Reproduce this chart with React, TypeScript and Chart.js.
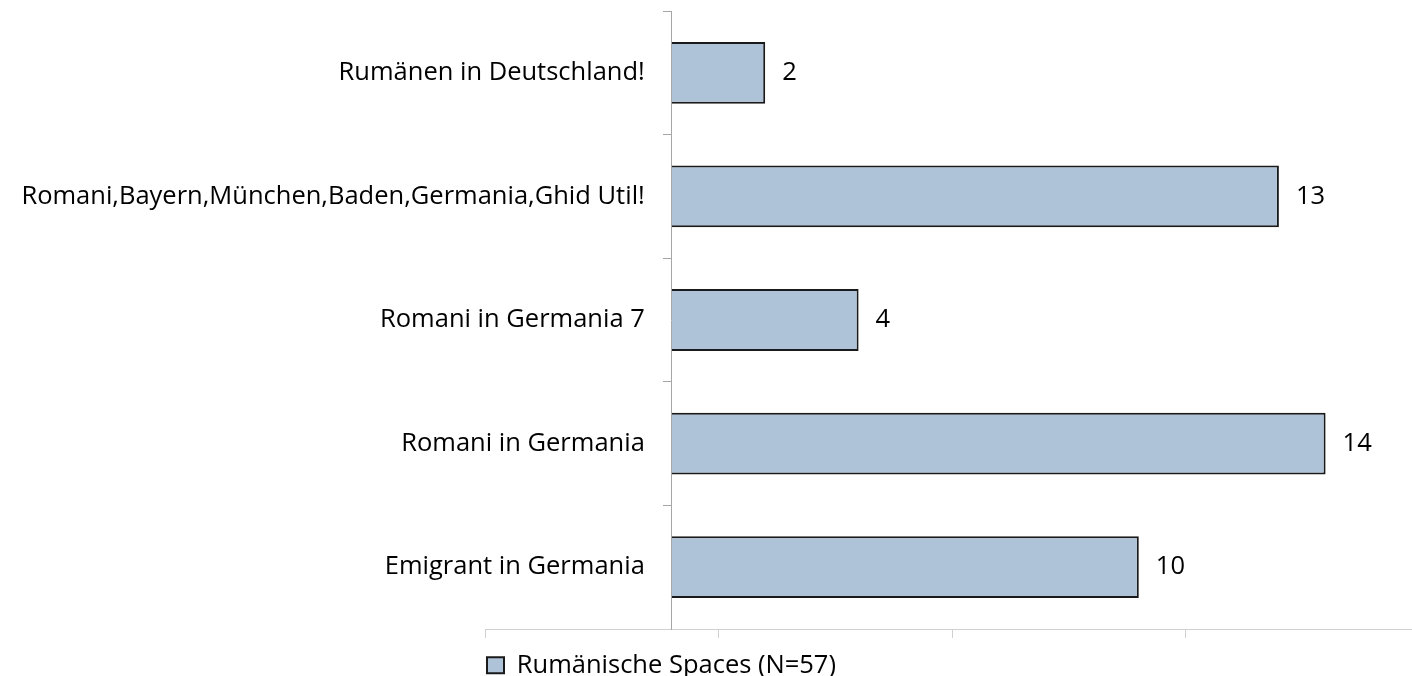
import React, { useEffect, useRef } from "react";
import { Chart, registerables } from "chart.js";

Chart.register(...registerables);

const categories: string[] = [
  "Rumänen in Deutschland!",
  "Romani,Bayern,München,Baden,Germania,Ghid Util!",
  "Romani in Germania 7",
  "Romani in Germania",
  "Emigrant in Germania",
];
const values: number[] = [2, 13, 4, 14, 10];
const seriesLabel = "Rumänische Spaces (N=57)";
const xTicks: number[] = [-4, 1, 6, 11];
const xMin = -4;
const xMax = 15.85;

const FONT = "Open Sans";
const FONT_SIZE = 25.5;
const LABEL_GAP = 27;

const valueLabels = {
  id: "valueLabels",
  beforeDraw(chart: any) {
    const y = chart.scales.y;
    const items = y.getLabelItems(chart.chartArea);
    if (!y._shifted) {
      items.forEach((it: any) => {
        it.options.translation[0] -= LABEL_GAP;
      });
      y._shifted = true;
    }
  },
  afterDatasetsDraw(chart: any) {
    const ctx = chart.ctx;
    const meta = chart.getDatasetMeta(0);
    ctx.save();
    ctx.font = `${FONT_SIZE}px "${FONT}"`;
    ctx.fillStyle = "#000000";
    ctx.textAlign = "left";
    ctx.textBaseline = "middle";
    meta.data.forEach((bar: any, i: number) => {
      ctx.fillText(String(values[i]), bar.x + 17, bar.y);
    });
    ctx.restore();
  },
};

export default function App() {
  const ref = useRef<HTMLCanvasElement | null>(null);
  useEffect(() => {
    if (!ref.current) return;
    const chart = new Chart(ref.current, {
      type: "bar",
      data: {
        labels: categories,
        datasets: [
          {
            label: seriesLabel,
            data: values,
            backgroundColor: "#aec3d8",
            borderColor: "#1a1a1a",
            borderWidth: 2,
            categoryPercentage: 1,
            barPercentage: 0.5,
          },
        ],
      },
      options: {
        indexAxis: "y",
        animation: false,
        responsive: false,
        maintainAspectRatio: false,
        layout: { padding: { left: 485, top: 11, right: 0, bottom: -12 } },
        scales: {
          x: {
            type: "linear",
            min: xMin,
            max: xMax,
            afterBuildTicks: (axis: any) => {
              axis.ticks = xTicks.map((v) => ({ value: v }));
            },
            afterFit: (s: any) => {
              s.height = 21.5;
            },
            ticks: { display: false },
            grid: {
              drawOnChartArea: false,
              drawTicks: true,
              tickLength: 9,
              color: "#d0d0d0",
              lineWidth: 1,
            },
            border: { display: true, color: "#d0d0d0", width: 1 },
          },
          y: {
            type: "category",
            position: { x: 0 } as any,
            afterFit: (s: any) => {
              s.paddingTop = 0;
              s.paddingBottom = 0;
            },
            ticks: {
              color: "#000000",
              font: { family: FONT, size: FONT_SIZE },
              padding: 19,
              autoSkip: false,
            },
            grid: {
              drawOnChartArea: false,
              drawTicks: true,
              tickLength: 8,
              offset: true,
              color: "#a6a6a6",
            },
            border: { display: true, color: "#a6a6a6", width: 1 },
          },
        },
        plugins: {
          legend: {
            position: "bottom",
            align: "start",
            fullSize: false,
            labels: {
              color: "#000000",
              font: { family: FONT, size: FONT_SIZE },
              boxWidth: 17,
              boxHeight: 16,
              padding: 2,
            },
          },
          tooltip: { enabled: false },
        },
      },
      plugins: [valueLabels],
    });
    return () => chart.destroy();
  }, []);
  return (
    <div style={{ position: "fixed", left: 0, top: 0, width: 1412, height: 676, background: "#ffffff" }}>
      <canvas ref={ref} width={1412} height={676} style={{ width: 1412, height: 676 }} />
    </div>
  );
}
